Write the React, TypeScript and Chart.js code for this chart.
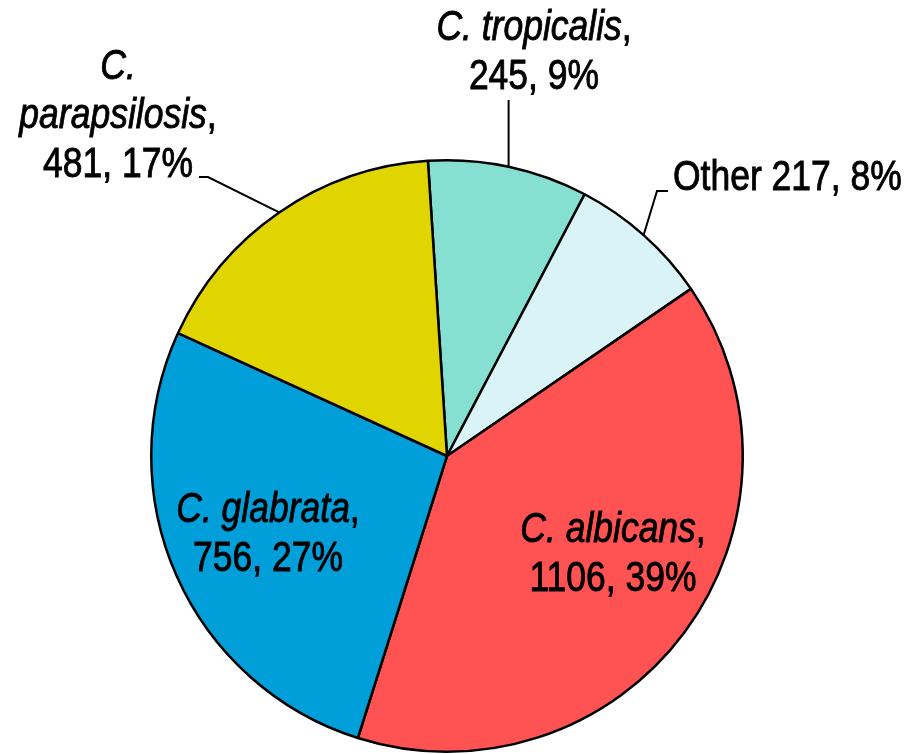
import React, { useEffect, useRef } from "react";
import { Chart, registerables } from "chart.js";
Chart.register(...registerables);

const species = ["C. tropicalis", "Other", "C. albicans", "C. glabrata", "C. parapsilosis"];
const counts = [245, 217, 1106, 756, 481];
const percents = [9, 8, 39, 27, 17];
const italicName = [true, false, true, true, true];
const colors = ["#86E0D2", "#DAF3F7", "#FF5252", "#009FDA", "#E1D500"];

const FONT = '"Liberation Sans", Arial, sans-serif';
const FONT_SIZE = 42;
const NARROW = 0.845; // horizontal squeeze to emulate a condensed face
const LINE_H = 49;

type Seg = { t: string; i?: boolean };
// layout (positions/styles), kept separate from data
const LAYOUT: Record<number, { x: number; y: number; align: "center" | "left"; mode: string; leader?: (number | null)[][] }> = {
  0: { x: 534, y: 40, align: "center", mode: "two", leader: [[null, 100]] },
  1: { x: 673, y: 190, align: "left", mode: "one", leader: [[657, 191], [668, 191]] },
  2: { x: 613, y: 542, align: "center", mode: "two" },
  3: { x: 268, y: 522, align: "center", mode: "two" },
  4: { x: 118, y: 79, align: "center", mode: "three", leader: [[208, 177], [199, 177]] },
};

function buildLines(i: number, mode: string): Seg[][] {
  const name = species[i];
  const nums = `${counts[i]}, ${percents[i]}%`;
  if (mode === "one") return [[{ t: `${name} ${nums}`, i: italicName[i] }]];
  if (mode === "three") {
    const sp = name.indexOf(" ");
    return [
      [{ t: name.slice(0, sp), i: italicName[i] }],
      [{ t: name.slice(sp + 1), i: italicName[i] }, { t: "," }],
      [{ t: nums }],
    ];
  }
  return [[{ t: name, i: italicName[i] }, { t: "," }], [{ t: nums }]];
}

const labelPlugin = {
  id: "sliceLabels",
  afterDraw(chart: any) {
    const ctx = chart.ctx as CanvasRenderingContext2D;
    const meta = chart.getDatasetMeta(0);
    ctx.save();
    ctx.fillStyle = "#000";
    ctx.strokeStyle = "#000";
    ctx.textBaseline = "alphabetic";
    ctx.textAlign = "left";
    meta.data.forEach((arc: any, i: number) => {
      const lay = LAYOUT[i];
      if (!lay) return;
      const lines = buildLines(i, lay.mode);
      lines.forEach((segs, li) => {
        let w = 0;
        const widths = segs.map((s) => {
          ctx.font = `${s.i ? "italic " : ""}${FONT_SIZE}px ${FONT}`;
          const m = ctx.measureText(s.t).width * NARROW;
          w += m;
          return m;
        });
        let x = lay.align === "center" ? lay.x - w / 2 : lay.x;
        const y = lay.y + li * LINE_H;
        segs.forEach((s, k) => {
          ctx.font = `${s.i ? "italic " : ""}${FONT_SIZE}px ${FONT}`;
          ctx.save();
          ctx.translate(x, y);
          ctx.scale(NARROW, 1);
          ctx.lineWidth = 0.9;
          ctx.fillText(s.t, 0, 0);
          ctx.strokeText(s.t, 0, 0);
          ctx.restore();
          x += widths[k];
        });
      });
      if (lay.leader) {
        const mid = (arc.startAngle + arc.endAngle) / 2;
        const ex = arc.x + Math.cos(mid) * arc.outerRadius;
        const ey = arc.y + Math.sin(mid) * arc.outerRadius;
        ctx.lineWidth = 2;
        ctx.beginPath();
        ctx.moveTo(ex, ey);
        lay.leader.forEach((p) => ctx.lineTo(p[0] == null ? ex : (p[0] as number), p[1] as number));
        ctx.stroke();
      }
    });
    ctx.restore();
  },
};

export default function App() {
  const ref = useRef<HTMLCanvasElement>(null);
  useEffect(() => {
    if (!ref.current) return;
    const chart = new Chart(ref.current, {
      type: "pie",
      data: {
        labels: species,
        datasets: [
          {
            data: counts,
            backgroundColor: colors,
            borderColor: "#000",
            borderWidth: 2.5,
          },
        ],
      },
      options: {
        responsive: false,
        animation: false,
        rotation: -3.7,
        layout: { padding: { left: 150, right: 163, top: 159, bottom: 1 } },
        plugins: { legend: { display: false }, tooltip: { enabled: false } },
      },
      plugins: [labelPlugin],
    });
    return () => chart.destroy();
  }, []);
  return (
    <div style={{ position: "fixed", left: 0, top: 0, width: 907, height: 754, background: "#fff" }}>
      <canvas ref={ref} width={907} height={754} />
    </div>
  );
}
